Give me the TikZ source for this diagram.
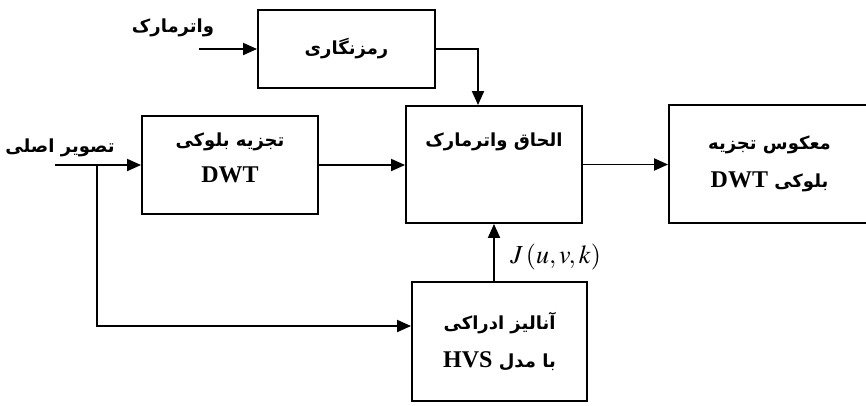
\documentclass[tikz,border=0pt]{standalone}
\usepackage{amsmath}
\usepackage{mathptmx}
\usepackage{fontspec}
\setmainfont{Liberation Serif}
\newfontfamily\farsifont[Script=Arabic]{DejaVu Sans}
\TeXXeTstate=1
\usetikzlibrary{arrows.meta}
\newcommand{\fa}[1]{{\farsifont\bfseries\beginR #1\endR}}
\newcommand{\lat}[1]{\beginL{\rmfamily\bfseries\fontsize{24}{28}\selectfont #1}\endL}

\begin{document}
\begin{tikzpicture}[x=1pt,y=-1pt,
		box/.style={draw,line width=1.9pt,inner sep=0pt,align=center},
		lnk/.style={line width=1.9pt,-{Triangle[length=14pt,width=12pt]}},
		font=\fontsize{18}{22}\selectfont]
	\useasboundingbox (0,0) rectangle (866,405);
	% blocks
	\node[box,minimum width=177pt,minimum height=78pt] (enc) at (346.5,49) {\fa{رمزنگاری}};
	\node[box,minimum width=176pt,minimum height=98pt] (dwt) at (230,165) {\fa{تجزیه بلوکی}\\[14pt]\lat{DWT}\\[-8pt]};
	\node[box,minimum width=176pt,minimum height=117pt] (embed) at (494,164.5) {};
	\node (embedtxt) at (494,142) {\fa{الحاق واترمارک}};
	\node[box,minimum width=201pt,minimum height=118pt] (idwt) at (769.5,164) {\fa{معکوس تجزیه}\\[16pt]\fa{بلوکی \lat{DWT}}};
	\node[box,minimum width=175pt,minimum height=119pt] (hvs) at (499.5,341.5) {\fa{آنالیز ادراکی}\\[16pt]\fa{با مدل \lat{HVS}}};
	% inputs
	\node (wm) at (173,28) {\fa{واترمارک}};
	\node (img) at (60,148) {\fa{تصویر اصلی}};
	\coordinate (wmin) at (199,49);
	\coordinate (imgin) at (55,165);
	\coordinate (br) at (97,165);
	% links
	\draw[lnk] (wmin) -- (enc.west);
	\draw[lnk] (enc.east) -| ([xshift=-16pt]embed.north);
	\draw[lnk] (imgin) -- (dwt.west);
	\draw[lnk] (br) |- ([yshift=15.5pt]hvs.west);
	\draw[lnk] (dwt.east) -- (dwt.east -| embed.west);
	\draw[lnk] (embed.east) -- (embed.east -| idwt.west);
	\draw[lnk] (embed.south |- hvs.north) -- (embed.south)
		node[pos=0.42,right=12pt] (jlab) {\fontsize{26}{30}\selectfont$J\,(u,v,k)$};
\end{tikzpicture}
\end{document}
